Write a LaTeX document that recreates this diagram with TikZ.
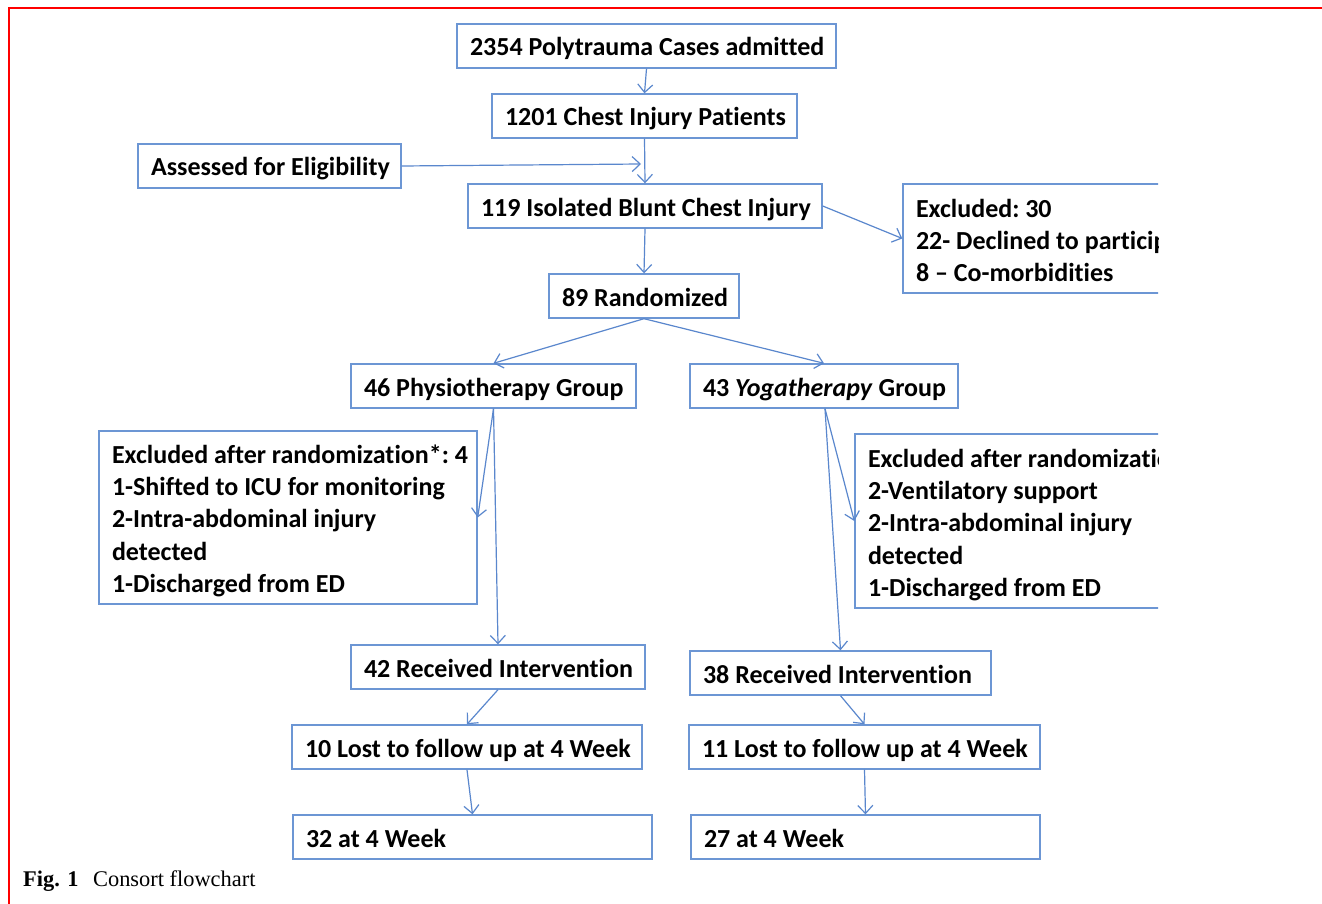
\documentclass[tikz,border=0pt]{standalone}
\usepackage{fontspec}
\setmainfont{Carlito}[Ligatures={TeX,NoCommon}]
\newfontfamily\capfont{Liberation Serif}
\usetikzlibrary{arrows.meta}
\definecolor{boxblue}{RGB}{108,150,212}
\definecolor{arrblue}{RGB}{90,135,205}
\definecolor{framered}{RGB}{255,0,0}
\newcommand\firststrut[1]{\rule{0pt}{#1}}
\begin{document}
\begin{tikzpicture}[x=1pt,y=-1pt,
  boxfont/.style={font=\fontsize{26}{32.4}\selectfont\bfseries\frenchspacing},
  box/.style={boxfont, draw=boxblue, line width=1.4pt, minimum height=44pt, inner xsep=13pt, inner ysep=0pt,
    align=flush left, text height=21pt, text depth=1pt},
  mbox/.style={boxfont, draw=boxblue, line width=1.4pt, inner xsep=13pt, inner ysep=0pt,
    align=flush left},
  conn/.style={draw=arrblue, line width=1.2pt, -{Straight Barb[length=8pt,width=15pt]}},
]
\useasboundingbox (0,0) rectangle (1322,904);
\fill[white] (0,0) rectangle (1322,904);
\draw[framered, line width=2.2pt] (9,904) -- (9,8) -- (1322,8);

\node[box, text width=353pt] (A) at (646.5,46) {\mbox{2354 Polytrauma Cases admitted}};
\node[box, text width=279pt] (B) at (644.5,116) {\mbox{1201 Chest Injury Patients}};
\node[box, text width=237pt] (E) at (269.5,166) {\mbox{Assessed for Eligibility}};
\node[box, text width=328pt] (C) at (645,206) {\mbox{119 Isolated Blunt Chest Injury}};
\node[box, text width=164pt] (R) at (644,296) {\mbox{89 Randomized}};
\node[box, text width=259pt] (P) at (493.5,386) {\mbox{46 Physiotherapy Group}};
\node[box, text width=242pt] (Y) at (824,386) {\mbox{43 \textit{Yogatherapy} Group}};
\node[mbox, text width=352pt, minimum height=173pt] (XP) at (288,517.5)
  {\firststrut{25pt}\mbox{Excluded after randomization*: 4}\\\mbox{1-Shifted to ICU for monitoring}\\2-Intra-abdominal injury\\detected\\1-Discharged from ED};
\begin{scope}
  \clip (0,0) rectangle (1158,904);
  \node[mbox, text width=334pt, minimum height=109pt] (X30) at (1083,238.5)
    {\firststrut{22pt}Excluded: 30\\22- Declined to participate\\8 – Co-morbidities};
  \node[mbox, text width=374pt, minimum height=174pt] (XY) at (1055,521)
    {\firststrut{26pt}Excluded after randomization\\2-Ventilatory support\\2-Intra-abdominal injury\\detected\\1-Discharged from ED};
\end{scope}
\node[box, text width=268pt] (P42) at (498,667) {\mbox{42 Received Intervention}};
\node[box, text width=275pt] (Y38) at (840.5,673) {\mbox{38 Received Intervention}};
\node[box, text width=324pt] (P10) at (467,747) {\mbox{10 Lost to follow up at 4 Week}};
\node[box, text width=325pt] (Y11) at (864.5,747) {\mbox{11 Lost to follow up at 4 Week}};
\node[box, text width=333pt] (P32) at (472.5,837) {\mbox{32 at 4 Week}};
\node[box, text width=323pt] (Y27) at (865.5,837) {\mbox{27 at 4 Week}};

\coordinate (Eend) at (641,164);
\draw[conn] (A.south) -- (B.north);
\draw[conn] (B.south) -- (C.north);
\draw[conn] (E.east) -- (Eend);
\draw[conn] (C.east) -- (X30.west);
\draw[conn] (C.south) -- (R.north);
\draw[conn] (R.south) -- (P.north);
\draw[conn] (R.south) -- (Y.north);
\draw[conn] (P.south) -- (XP.east);
\draw[conn] (P.south) -- (P42.north);
\draw[conn] ([xshift=1pt]Y.south) -- (XY.west);
\draw[conn] ([xshift=1pt]Y.south) -- (Y38.north);
\draw[conn] (P42.south) -- (P10.north);
\draw[conn] (Y38.south) -- (Y11.north);
\draw[conn] (P10.south) -- (P32.north);
\draw[conn] (Y11.south) -- (Y27.north);

\node[anchor=base west, inner sep=0pt, font=\capfont\fontsize{22.4}{26}\selectfont] (cap) at (23,886)
  {\textbf{Fig. 1}\hspace{0.65em}Consort flowchart};
\end{tikzpicture}
\end{document}
